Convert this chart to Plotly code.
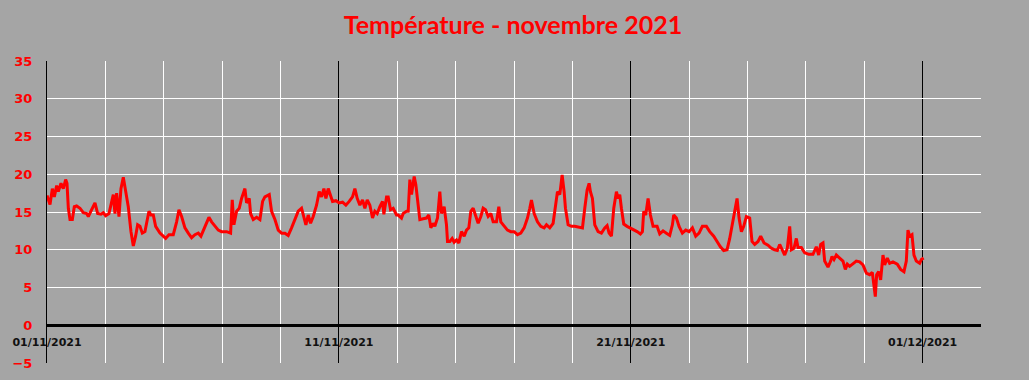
import pandas as pd
import plotly.graph_objects as go

# Time in days since 2021-11-01 00:00, temperature in °C
days_a = [0.0, 0.103, 0.183, 0.251, 0.331, 0.388, 0.479, 0.559, 0.639, 0.685, 0.731, 0.788, 0.868, 0.936,
          1.016, 1.130, 1.244, 1.358, 1.416, 1.507, 1.644, 1.735, 1.849, 1.929, 2.009, 2.123, 2.192, 2.272,
          2.329, 2.386, 2.466, 2.534, 2.614, 2.694, 2.785, 2.877, 2.957, 3.036, 3.105, 3.185, 3.265, 3.356,
          3.448, 3.493, 3.562, 3.642, 3.722, 3.870, 3.984, 4.064, 4.178, 4.326, 4.441, 4.521, 4.612, 4.726,
          4.840, 4.954, 5.069, 5.183, 5.274, 5.388, 5.548, 5.639, 5.776, 5.868, 5.982, 6.096]
temps_a = [17.2, 16.0, 18.1, 17.0, 18.5, 17.7, 18.8, 18.1, 19.3, 18.8, 15.5, 14.0, 14.0, 15.7,
           15.8, 15.5, 14.9, 14.8, 14.4, 15.1, 16.2, 14.8, 14.7, 14.9, 14.5, 14.8, 15.9, 17.3,
           14.8, 17.5, 14.4, 18.1, 19.6, 17.9, 15.7, 12.4, 10.5, 11.8, 13.3, 13.1, 12.2, 12.4,
           14.2, 15.1, 14.6, 14.6, 13.1, 12.2, 11.8, 11.5, 12.0, 12.0, 13.7, 15.3, 14.4, 12.9,
           12.2, 11.6, 12.0, 12.2, 11.8, 12.9, 14.3, 13.7, 13.1, 12.6, 12.4, 12.4]

days_b = [6.153, 6.290, 6.347, 6.404, 6.496, 6.587, 6.667, 6.781, 6.838, 6.930, 6.975, 7.067, 7.181,
          7.295, 7.386, 7.466, 7.546, 7.615, 7.694, 7.809, 7.923, 8.037, 8.151, 8.265, 8.379, 8.494,
          8.608, 8.722, 8.802, 8.870, 8.950, 9.030, 9.121, 9.235, 9.327, 9.407, 9.487, 9.555, 9.635,
          9.715, 9.783, 9.898, 10.012, 10.126, 10.240, 10.354, 10.468, 10.548, 10.628, 10.720, 10.811,
          10.891, 10.971, 11.062, 11.153, 11.233, 11.313, 11.405, 11.496, 11.542, 11.633, 11.690, 11.770,
          11.861, 11.975]
temps_b = [12.4, 12.2, 16.6, 13.3, 15.1, 15.5, 16.8, 18.1, 16.2, 16.8, 14.8, 14.0, 14.3,
           14.0, 16.4, 17.0, 17.2, 17.3, 15.1, 14.0, 12.6, 12.2, 12.2, 11.9, 12.9, 14.0,
           15.1, 15.5, 14.4, 13.3, 14.6, 13.5, 14.4, 15.9, 17.7, 17.0, 18.1, 16.8, 18.1,
           17.3, 16.4, 16.5, 16.2, 16.3, 15.9, 16.4, 17.0, 18.1, 16.8, 15.9, 16.6,
           15.5, 16.6, 15.9, 14.2, 15.1, 14.8, 15.7, 16.4, 14.7, 17.0, 17.0, 15.3,
           15.5, 14.6]

days_c = [12.032, 12.146, 12.203, 12.318, 12.375, 12.432, 12.489, 12.580, 12.637, 12.694, 12.774,
          12.888, 13.002, 13.082, 13.151, 13.231, 13.288, 13.379, 13.459, 13.516, 13.607, 13.687,
          13.722, 13.802, 13.881, 13.950, 14.030, 14.110, 14.201, 14.293, 14.372, 14.452, 14.521,
          14.601, 14.681, 14.772, 14.863, 14.943, 15.023, 15.115, 15.206, 15.286, 15.400, 15.480,
          15.548, 15.662, 15.776, 15.891, 16.005, 16.119, 16.233, 16.347, 16.461, 16.541, 16.598,
          16.690, 16.804, 16.918, 17.032, 17.112, 17.226, 17.340, 17.420, 17.489, 17.569, 17.649,
          17.717, 17.763, 17.854, 17.968, 18.082]
temps_c = [14.6, 14.2, 14.8, 15.1, 15.1, 19.3, 17.3, 19.7, 18.6, 16.4, 14.0,
           14.1, 14.2, 14.6, 12.9, 13.5, 13.1, 14.2, 17.7, 14.8, 15.7, 13.3,
           11.1, 11.1, 11.5, 11.0, 11.3, 10.9, 12.4, 11.8, 12.6, 12.9, 15.1,
           15.5, 14.6, 13.5, 14.4, 15.5, 15.3, 14.4, 14.8, 13.7, 13.7, 15.7,
           13.7, 13.1, 12.6, 12.4, 12.4, 12.0, 12.2, 12.9, 14.2, 15.5, 16.6,
           14.8, 13.7, 13.1, 12.9, 13.3, 12.9, 13.5, 15.9, 17.7, 17.3, 19.9,
           17.7, 15.5, 13.3, 13.1, 13.1]

days_d = [18.196, 18.345, 18.425, 18.505, 18.573, 18.619, 18.687, 18.767, 18.881, 18.995, 19.110,
          19.190, 19.258, 19.338, 19.418, 19.509, 19.566, 19.623, 19.680, 19.760, 19.874, 19.989,
          20.103, 20.217, 20.331, 20.400, 20.445, 20.514, 20.594, 20.674, 20.765, 20.902, 20.993,
          21.107, 21.222, 21.336, 21.427, 21.473, 21.564, 21.655, 21.769, 21.884, 21.998, 22.112,
          22.226, 22.340, 22.454, 22.591, 22.706, 22.843, 22.957, 23.071, 23.185, 23.299, 23.391,
          23.482, 23.562, 23.642, 23.711, 23.791, 23.870, 23.961]
temps_d = [13.0, 12.9, 15.5, 17.9, 18.8, 17.7, 16.8, 13.3, 12.4, 12.2, 12.9,
           13.2, 12.2, 11.8, 15.5, 17.7, 16.8, 17.3, 15.5, 13.4, 13.1, 12.9,
           12.6, 12.4, 12.1, 12.4, 15.1, 14.6, 16.8, 14.6, 13.1, 13.1, 12.1,
           12.5, 12.2, 11.9, 13.3, 14.6, 14.2, 13.1, 12.2, 12.6, 12.4, 12.9,
           11.8, 12.2, 13.1, 13.1, 12.4, 11.8, 11.1, 10.4, 9.9, 10.0, 11.5,
           13.5, 15.5, 16.8, 14.2, 12.4, 13.1, 14.4]

days_e = [24.075, 24.155, 24.246, 24.361, 24.452, 24.566, 24.703, 24.817, 24.931, 25.023, 25.103,
          25.183, 25.274, 25.365, 25.445, 25.502, 25.593, 25.673, 25.731, 25.845, 25.959, 26.096,
          26.244, 26.358, 26.438, 26.507, 26.587, 26.644, 26.758, 26.849, 26.895, 26.963, 27.043,
          27.157, 27.271, 27.352, 27.420, 27.500, 27.614, 27.728, 27.843, 27.957, 28.071, 28.185,
          28.276, 28.379, 28.425, 28.493, 28.562, 28.642, 28.699, 28.790, 28.870, 28.984, 29.132,
          29.247, 29.361, 29.441, 29.498, 29.555, 29.635, 29.703, 29.783, 29.898, 29.955, 30.035]
temps_e = [14.2, 11.1, 10.7, 11.1, 11.8, 10.9, 10.6, 10.2, 10.0, 9.9, 10.7,
           10.0, 9.3, 10.2, 13.1, 10.0, 10.2, 11.5, 10.3, 10.3, 9.6, 9.4,
           9.4, 10.4, 9.3, 10.7, 10.9, 8.5, 7.7, 8.5, 9.1, 8.7, 9.3,
           8.9, 8.5, 7.4, 8.1, 7.8, 8.2, 8.5, 8.4, 8.0, 6.9, 6.7,
           7.0, 3.8, 6.7, 7.1, 6.0, 9.3, 8.0, 8.9, 8.2, 8.4, 8.1,
           7.4, 7.1, 8.5, 12.6, 11.8, 12.0, 9.3, 8.5, 8.2, 8.7, 8.9]

label_dates = ["2021-11-01", "2021-11-11", "2021-11-21", "2021-12-01"]
x_range = ["2021-11-01", "2021-12-03"]
y_ticks = [-5, 0, 5, 10, 15, 20, 25, 30, 35]
title_text = "Température - novembre 2021"

days = days_a + days_b + days_c + days_d + days_e
temps = temps_a + temps_b + temps_c + temps_d + temps_e
base = pd.Timestamp("2021-11-01")
times = [base + pd.Timedelta(days=d) for d in days]

BG = "#a5a5a5"
fig = go.Figure()
fig.add_trace(go.Scatter(x=times, y=temps, mode="lines",
                         line=dict(color="#ff0000", width=3), hoverinfo="skip"))

fig.update_layout(
    width=1029, height=380,
    margin=dict(l=47, r=48, t=61, b=17, autoexpand=False),
    paper_bgcolor=BG, plot_bgcolor=BG,
    showlegend=False,
    title=dict(text=title_text, x=0.4985, xanchor="center", y=1 - 25 / 380, yanchor="middle",
               font=dict(family="Lato", size=25, color="#ff0000", weight="bold")),
)
fig.update_xaxes(
    type="date", range=x_range, automargin=False,
    tickmode="array", tickvals=label_dates, tickformat="%d/%m/%Y",
    showgrid=True, gridcolor="black", gridwidth=1,
    minor=dict(dtick=2 * 86400000, tick0="2021-11-01", showgrid=True, gridcolor="white", gridwidth=1),
    ticks="", ticklabelposition="inside", ticklabeloverflow="allow", ticklabelstandoff=12,
    tickfont=dict(family="DejaVu Sans", size=11, color="#111111", weight="bold"),
    zeroline=False, showline=False,
)
fig.update_yaxes(
    range=[-5, 35], tickmode="array", tickvals=y_ticks, automargin=False,
    showgrid=True, gridcolor="white", gridwidth=1,
    zeroline=True, zerolinecolor="black", zerolinewidth=3,
    showline=True, linecolor="black", linewidth=1,
    ticks="", ticklabelstandoff=11,
    tickfont=dict(family="DejaVu Sans", size=13, color="#ff0000", weight="bold"),
)

fig.write_html(
    "out.html",
    config={"displayModeBar": False},
    post_script="document.body.style.margin='0';document.body.style.background='" + BG + "';",
)
